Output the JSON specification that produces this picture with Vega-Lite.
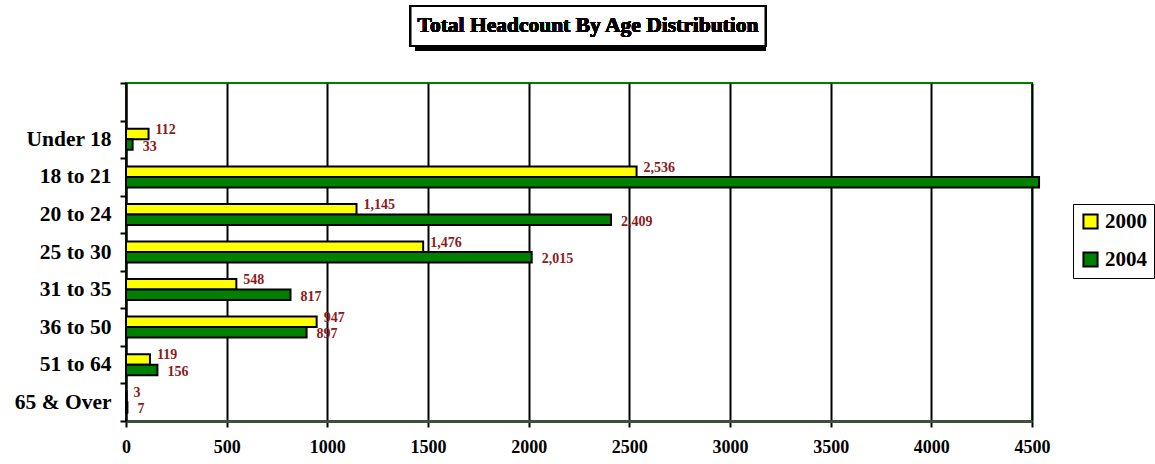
{
  "$schema": "https://vega.github.io/schema/vega-lite/v6.json",
  "background": "white",
  "padding": {"left": 13, "top": 5, "right": 0, "bottom": 0},
  "center": true,
  "spacing": 20,
  "config": {
    "font": "Liberation Serif",
    "view": {"stroke": null}
  },
  "data": {
    "values": [
      {"age": "Under 18", "year": "2000", "value": 112},
      {"age": "Under 18", "year": "2004", "value": 33},
      {"age": "18 to 21", "year": "2000", "value": 2536},
      {"age": "18 to 21", "year": "2004", "value": 4535},
      {"age": "20 to 24", "year": "2000", "value": 1145},
      {"age": "20 to 24", "year": "2004", "value": 2409},
      {"age": "25 to 30", "year": "2000", "value": 1476},
      {"age": "25 to 30", "year": "2004", "value": 2015},
      {"age": "31 to 35", "year": "2000", "value": 548},
      {"age": "31 to 35", "year": "2004", "value": 817},
      {"age": "36 to 50", "year": "2000", "value": 947},
      {"age": "36 to 50", "year": "2004", "value": 897},
      {"age": "51 to 64", "year": "2000", "value": 119},
      {"age": "51 to 64", "year": "2004", "value": 156},
      {"age": "65 & Over", "year": "2000", "value": 3},
      {"age": "65 & Over", "year": "2004", "value": 7}
    ]
  },
  "vconcat": [
    {
      "width": 355,
      "height": 40,
      "layer": [
        {
          "mark": {"type": "rect", "fill": "black", "xOffset": 5, "yOffset": 5},
          "encoding": {
            "x": {"datum": 0, "type": "quantitative", "scale": {"domain": [0, 1]}, "axis": null},
            "x2": {"datum": 1},
            "y": {"datum": 0, "type": "quantitative", "scale": {"domain": [0, 1]}, "axis": null},
            "y2": {"datum": 1}
          }
        },
        {
          "mark": {"type": "rect", "fill": "white", "stroke": "black", "strokeWidth": 2},
          "encoding": {
            "x": {"datum": 0, "type": "quantitative"},
            "x2": {"datum": 1},
            "y": {"datum": 0, "type": "quantitative"},
            "y2": {"datum": 1}
          }
        },
        {
          "mark": {"type": "text", "text": "Total Headcount By Age Distribution", "font": "Liberation Serif", "fontWeight": "bold", "fontSize": 21.5, "align": "center", "baseline": "middle", "color": "black"},
          "encoding": {
            "x": {"datum": 0.5, "type": "quantitative"},
            "y": {"datum": 0.5, "type": "quantitative"}
          }
        }
      ]
    },
    {
      "width": 906,
      "height": 338,
      "view": {"stroke": "#008000", "strokeWidth": 2},
      "encoding": {
        "y": {
          "field": "age",
          "type": "nominal",
          "scale": {"domain": [" ", "Under 18", "18 to 21", "20 to 24", "25 to 30", "31 to 35", "36 to 50", "51 to 64", "65 & Over"], "paddingInner": 0, "paddingOuter": 0},
          "axis": {
            "title": null,
            "tickBand": "extent",
            "tickSize": 6,
            "tickWidth": 2,
            "tickColor": "black",
            "domainColor": "black",
            "domainWidth": 2,
            "labelFont": "Liberation Serif",
            "labelFontWeight": "bold",
            "labelFontSize": 21.5,
            "labelColor": "black",
            "labelPadding": 9,
            "grid": false
          }
        },
        "yOffset": {"field": "year", "type": "nominal", "scale": {"paddingInner": 0, "paddingOuter": 0.79}},
        "x": {
          "field": "value",
          "type": "quantitative",
          "scale": {"domain": [0, 4500], "nice": false},
          "axis": {
            "title": null,
            "values": [0, 500, 1000, 1500, 2000, 2500, 3000, 3500, 4000, 4500],
            "format": "d",
            "grid": true,
            "gridColor": "black",
            "gridWidth": 2,
            "gridOpacity": 1,
            "tickSize": 6,
            "tickWidth": 2,
            "tickColor": "black",
            "domainColor": "#3c4f3c",
            "domainWidth": 3,
            "labelFont": "Liberation Serif",
            "labelFontWeight": "bold",
            "labelFontSize": 18,
            "labelColor": "black",
            "labelPadding": 11,
            "labelFlush": false
          }
        }
      },
      "layer": [
        {
          "mark": {"type": "bar", "stroke": "black", "strokeWidth": 2, "clip": false},
          "encoding": {
            "color": {
              "field": "year",
              "type": "nominal",
              "scale": {"domain": ["2000", "2004"], "range": ["#ffff00", "#008000"]},
              "legend": {
                "title": null,
                "orient": "none",
                "legendX": 947,
                "legendY": 198,
                "symbolType": "square",
                "symbolSize": 200,
                "symbolStrokeColor": "black",
                "symbolStrokeWidth": 2,
                "symbolOpacity": 1,
                "labelFont": "Liberation Serif",
                "labelFontWeight": "bold",
                "labelFontSize": 21,
                "labelColor": "black",
                "labelOffset": 4,
                "rowPadding": 15,
                "padding": 7,
                "strokeColor": "black",
                "fillColor": "white"
              }
            }
          }
        },
        {
          "transform": [{"filter": "datum.year == '2000' && datum.value <= 4500"}],
          "mark": {"type": "text", "align": "left", "baseline": "middle", "dx": 7, "dy": -4, "font": "Liberation Serif", "fontWeight": "bold", "fontSize": 14, "color": "#8b1a1a"},
          "encoding": {"text": {"field": "value", "type": "quantitative", "format": ","}}
        },
        {
          "transform": [{"filter": "datum.year == '2004' && datum.value <= 4500"}],
          "mark": {"type": "text", "align": "left", "baseline": "middle", "dx": 10, "dy": 2, "font": "Liberation Serif", "fontWeight": "bold", "fontSize": 14, "color": "#8b1a1a"},
          "encoding": {"text": {"field": "value", "type": "quantitative", "format": ","}}
        }
      ]
    }
  ]
}
